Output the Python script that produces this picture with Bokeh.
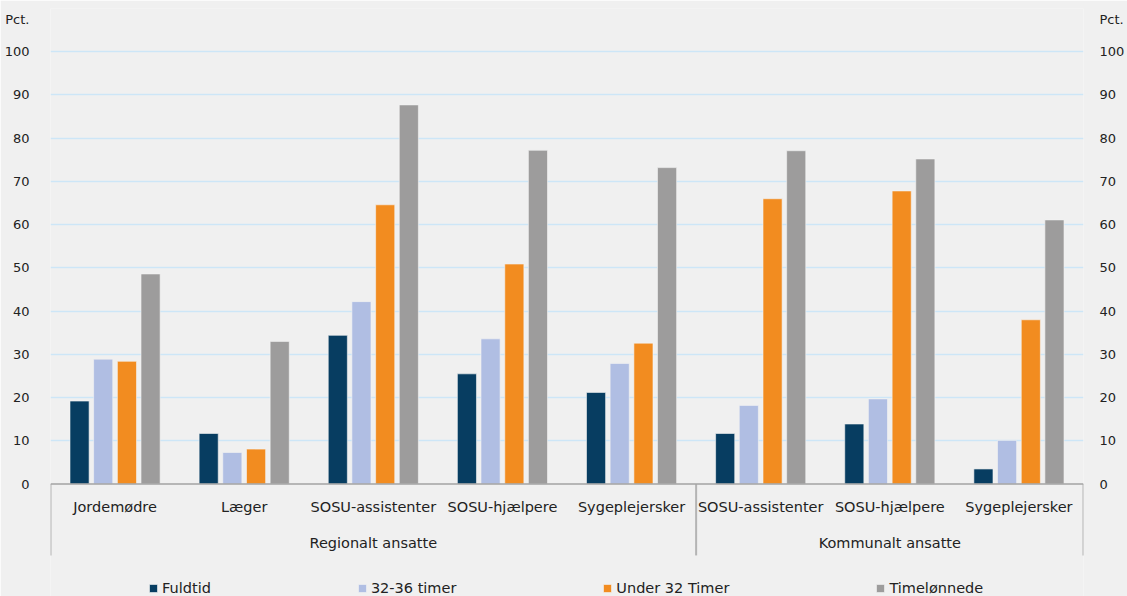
from bokeh.plotting import figure
from bokeh.models import (Range1d, LinearAxis, FixedTicker, Legend, LegendItem,
                          ColumnDataSource, Span)
from bokeh.core.properties import value
from bokeh.embed import file_html
from bokeh.resources import INLINE

categories = ["Jordemødre", "Læger", "SOSU-assistenter", "SOSU-hjælpere", "Sygeplejersker",
              "SOSU-assistenter", "SOSU-hjælpere", "Sygeplejersker"]
groups = ["Regionalt ansatte", "Kommunalt ansatte"]
group_sizes = [5, 3]
series = ["Fuldtid", "32-36 timer", "Under 32 Timer", "Timelønnede"]
fuldtid = [19.2, 11.7, 34.4, 25.5, 21.2, 11.7, 13.9, 3.5]
timer_32_36 = [28.9, 7.3, 42.2, 33.6, 27.9, 18.2, 19.7, 10.1]
under_32 = [28.4, 8.1, 64.6, 50.9, 32.6, 66.0, 67.8, 38.0]
timeloennede = [48.6, 33.0, 87.7, 77.2, 73.2, 77.1, 75.2, 61.1]
y_ticks = [0, 10, 20, 30, 40, 50, 60, 70, 80, 90, 100]
unit_label = "Pct."

# ---- layout / style constants (value-axis units) ----
Y_START, Y_END = -26.0, 110.0
UNIT_POS = 107.4        # unit label on the value axes
CAT_LABEL_Y = -5.4      # category labels under the bars
GROUP_LABEL_Y = -13.6   # group labels
SEP_BOTTOM = -16.5      # lower end of group separators
colors = ["#073d61", "#b0bee3", "#f28c20", "#9d9c9c"]
offsets = [-0.275, -0.092, 0.092, 0.275]
bar_w = 0.148
FONT = "DejaVu Sans"
TXT = "#222222"
BG = "#f0f0f0"

n = len(categories)
p = figure(width=1127, height=596, output_backend="svg", toolbar_location=None,
           x_range=Range1d(0, n), y_range=Range1d(Y_START, Y_END),
           x_axis_location=None, y_axis_location=None,
           min_border_left=50, min_border_right=42, min_border_top=8, min_border_bottom=0,
           background_fill_color=BG, border_fill_color=BG, outline_line_color=None)

centers = [i + 0.5 for i in range(n)]
all_series = [fuldtid, timer_32_36, under_32, timeloennede]
renderers = []
for vals, col, off in zip(all_series, colors, offsets):
    src = ColumnDataSource(dict(x=[c + off for c in centers], top=vals))
    r = p.vbar(x="x", top="top", width=bar_w, bottom=0, source=src,
               fill_color=col, line_color="#f4f4f4", line_alpha=0.6, line_width=1)
    renderers.append(r)

# value axes on both sides (unit label as the top tick label)
for side in ["left", "right"]:
    ax = LinearAxis(ticker=FixedTicker(ticks=y_ticks + [UNIT_POS]))
    ax.major_label_overrides = {UNIT_POS: unit_label}
    ax.axis_line_color = None
    ax.major_tick_line_color = None
    ax.minor_tick_line_color = None
    ax.major_label_text_font = FONT
    ax.major_label_text_font_size = "13px"
    ax.major_label_text_color = TXT
    ax.major_label_standoff = 15 if side == "left" else 10
    p.add_layout(ax, side)

p.ygrid.ticker = FixedTicker(ticks=y_ticks[1:])
p.ygrid.grid_line_color = "#cde6f7"
p.ygrid.grid_line_width = 1.5
p.xgrid.grid_line_color = None

# category axis line
p.add_layout(Span(location=0, dimension="width", line_color="#a3a3a3", line_width=1.5))

# group boundaries / separators
bounds = [0]
for s in group_sizes:
    bounds.append(bounds[-1] + s)
group_centers = [(bounds[i] + bounds[i + 1]) / 2 for i in range(len(groups))]
p.segment(x0=bounds, y0=[0] * len(bounds), x1=bounds, y1=[SEP_BOTTOM] * len(bounds),
          line_color="#b4b4b4", line_width=2)

# category + group labels
p.text(x=centers, y=[CAT_LABEL_Y] * n, text=categories, text_align="center",
       text_baseline="middle", text_font=value(FONT), text_font_size="14.5px", text_color=TXT)
p.text(x=group_centers, y=[GROUP_LABEL_Y] * len(groups), text=groups, text_align="center",
       text_baseline="middle", text_font=value(FONT), text_font_size="14.5px", text_color=TXT)

legend = Legend(items=[LegendItem(label=s, renderers=[r]) for s, r in zip(series, renderers)],
                orientation="horizontal", location=(98, 0),
                glyph_width=10, glyph_height=10, label_standoff=4, spacing=146,
                label_text_font=FONT, label_text_font_size="14.5px", label_text_color=TXT,
                border_line_color=None, background_fill_color=None, background_fill_alpha=0,
                padding=0, margin=0)
p.add_layout(legend, "center")

open("out.html", "w").write(file_html(p, INLINE))
